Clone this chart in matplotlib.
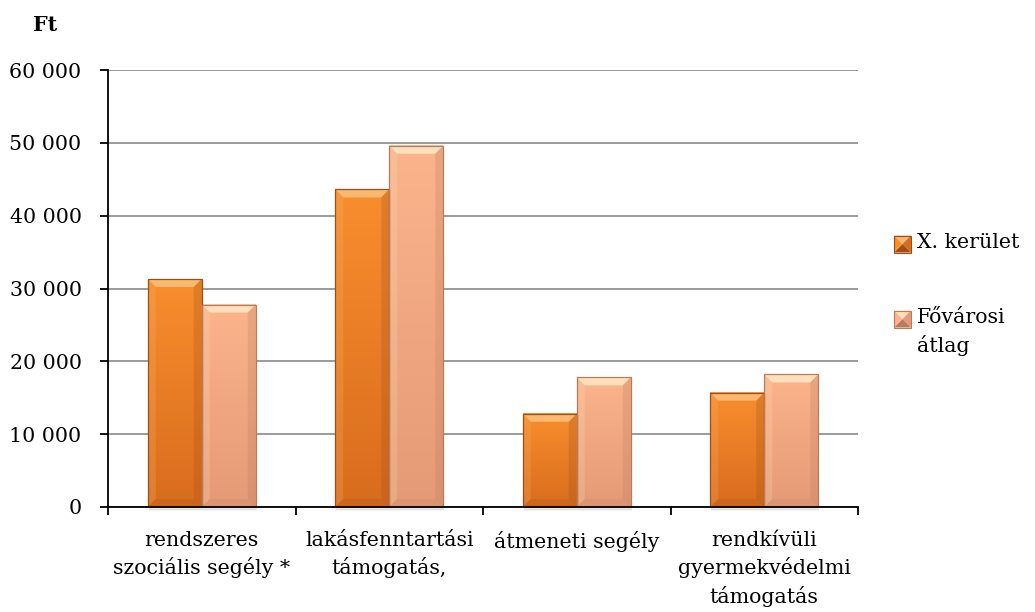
import matplotlib
matplotlib.use("Agg")
import matplotlib.pyplot as plt
from matplotlib.patches import Polygon, Rectangle
from matplotlib.colors import LinearSegmentedColormap
from matplotlib.ticker import FuncFormatter, FixedLocator
import numpy as np

categories = ["rendszeres\nszociális segély *", "lakásfenntartási\ntámogatás,",
              "átmeneti segély", "rendkívüli\ngyermekvédelmi\ntámogatás"]
series_names = ["X. kerület", "Fővárosi\nátlag"]
kerulet = [31300, 43600, 12800, 15700]
fovarosi = [27800, 49600, 17800, 18200]
y_ticks = [0, 10000, 20000, 30000, 40000, 50000, 60000]

plt.rcParams['font.family'] = ['DejaVu Serif']
FS = 14.8
LS = 1.45

W, H = 1035, 612
fig = plt.figure(figsize=(W / 100, H / 100), dpi=100)
ax = fig.add_axes([108 / W, 1 - 507 / H, 750 / W, 437 / H])

x = np.arange(len(categories))
w = 0.288
top_col = ["#F88E2E", "#FBB48C"]
bot_col = ["#D86C1E", "#E49A76"]
light = ["#FBB870", "#FFE0BC"]
dark = ["#9E4E16", "#B97B5E"]

ax.set_xlim(-0.5, len(categories) - 0.5)
ax.set_ylim(0, 60000)

bars = []
for i, vals in enumerate([kerulet, fovarosi]):
    b = ax.bar(x + (i - 0.5) * w, vals, width=w, color='none',
               edgecolor='none', linewidth=0, zorder=3)
    bars.append(b)

fig.canvas.draw()
bbox = ax.get_window_extent()
xr = ax.get_xlim()[1] - ax.get_xlim()[0]
yr = ax.get_ylim()[1] - ax.get_ylim()[0]
px = 8.0
dx = px * xr / bbox.width
dy = px * yr / bbox.height
sdy = 4.0 * yr / bbox.height
sdx = 3.0 * xr / bbox.width

grad = np.linspace(0, 1, 256).reshape(-1, 1)
for i, b in enumerate(bars):
    cmap = LinearSegmentedColormap.from_list(f"g{i}", [bot_col[i], top_col[i]])
    for r in b:
        x0, y0 = r.get_x(), r.get_y()
        x1, y1 = x0 + r.get_width(), y0 + r.get_height()
        # soft shadow under the bar
        for k, a in enumerate([0.10, 0.08, 0.06]):
            ax.add_patch(Rectangle((x0 + sdx * 0.3, y0 - sdy * (k + 1) / 3), r.get_width(),
                                   r.get_height(), color='#404040', alpha=a, lw=0,
                                   zorder=2.5, clip_on=False))
        ax.imshow(grad, cmap=cmap, origin='lower', extent=[x0, x1, y0, y1],
                  aspect='auto', zorder=3, interpolation='bilinear')
        top = [(x0, y1), (x1, y1), (x1 - dx, y1 - dy), (x0 + dx, y1 - dy)]
        left = [(x0, y0), (x0, y1), (x0 + dx, y1 - dy), (x0 + dx, y0 + dy)]
        right = [(x1, y0), (x1, y1), (x1 - dx, y1 - dy), (x1 - dx, y0 + dy)]
        bottom = [(x0, y0), (x1, y0), (x1 - dx, y0 + dy), (x0 + dx, y0 + dy)]
        ax.add_patch(Polygon(top, closed=True, color=light[i], lw=0, zorder=4))
        ax.add_patch(Polygon(left, closed=True, color=light[i], alpha=0.22, lw=0, zorder=4))
        ax.add_patch(Polygon(right, closed=True, color=dark[i], alpha=0.25, lw=0, zorder=4))
        ax.add_patch(Polygon(bottom, closed=True, color=dark[i], alpha=0.18, lw=0, zorder=4))
        ax.add_patch(Polygon([(x0, y0), (x1, y0), (x1, y1), (x0, y1)], closed=True,
                             fill=False, edgecolor=dark[i], lw=0.9, zorder=5))

ax.set_xlim(-0.5, len(categories) - 0.5)
ax.set_ylim(0, 60000)

ax.set_yticks(y_ticks)
ax.yaxis.set_major_formatter(FuncFormatter(lambda v, p: f"{int(v):,}".replace(",", " ")))
ax.grid(axis='y', color='#939393', linewidth=1.3, zorder=0)
ax.set_axisbelow(True)

ax.set_xticks(x)
ax.set_xticklabels(categories, fontsize=FS, linespacing=LS)
ax.tick_params(axis='x', which='major', length=0, pad=17)
ax.xaxis.set_minor_locator(FixedLocator(np.arange(-0.5, len(categories), 1.0)))
ax.tick_params(axis='x', which='minor', length=6, width=1.3, direction='out')
ax.tick_params(axis='y', labelsize=FS, length=6, width=1.3, direction='out', pad=13)

for s in ['top', 'right']:
    ax.spines[s].set_visible(False)
ax.spines['left'].set_linewidth(1.3)
ax.spines['bottom'].set_linewidth(1.3)
ax.spines['left'].set_zorder(6)
ax.spines['bottom'].set_zorder(6)

fig.text(45 / W, 1 - 25 / H, "Ft", fontsize=FS, fontweight='bold', ha='center', va='center')

# legend: bevelled squares with labels
sq = 17
leg_y = [244, 319]
for i, name in enumerate(series_names):
    cy = leg_y[i]
    lx0, lx1 = 894, 894 + sq
    ly0, ly1 = cy - sq / 2, cy + sq / 2
    cx, cyy = (lx0 + lx1) / 2, cy

    def f(p):
        return (p[0] / W, 1 - p[1] / H)

    tl, tr, br, bl, c = (lx0, ly0), (lx1, ly0), (lx1, ly1), (lx0, ly1), (cx, cyy)
    for tri, col in [([tl, tr, c], light[i]), ([tr, br, c], bot_col[i]),
                     ([br, bl, c], dark[i]), ([bl, tl, c], top_col[i])]:
        fig.add_artist(Polygon([f(p) for p in tri], closed=True, color=col, lw=0,
                               transform=fig.transFigure))
    fig.add_artist(Polygon([f(p) for p in [tl, tr, br, bl]], closed=True, fill=False,
                           edgecolor=dark[i], lw=0.8, transform=fig.transFigure))
    fig.text(917 / W, 1 - (cy - 11) / H, name, fontsize=FS, ha='left', va='top',
             linespacing=LS)

fig.savefig("out.png", dpi=100)
